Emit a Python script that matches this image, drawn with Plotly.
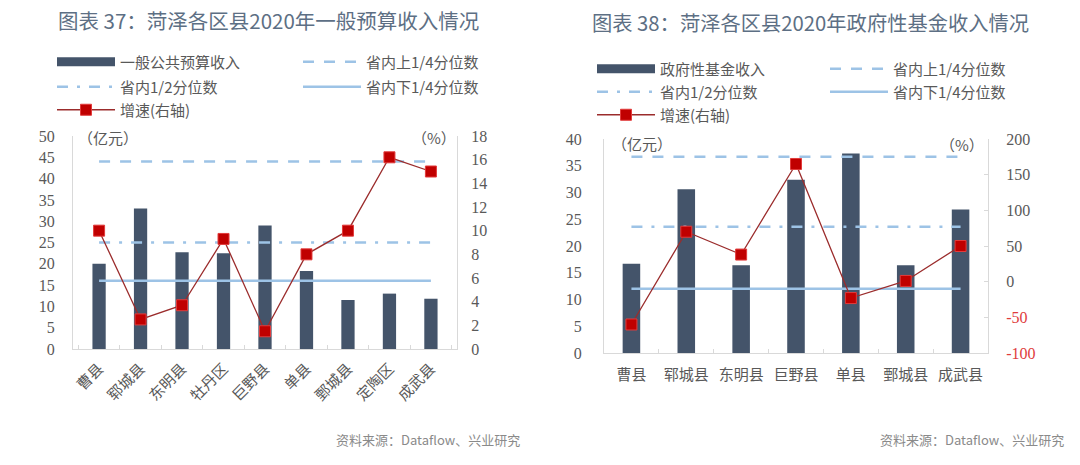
import plotly.graph_objects as go

# ---------------- data ----------------
cats_l = ["曹县", "郓城县", "东明县", "牡丹区", "巨野县", "单县", "鄄城县", "定陶区", "成武县"]
income_l = [20.0, 33.0, 22.7, 22.5, 29.0, 18.3, 11.5, 13.0, 11.8]
growth_l = [10.0, 2.5, 3.7, 9.3, 1.5, 8.0, 10.0, 16.2, 15.0]
q_upper_l = 44.0
q_median_l = 25.0
q_lower_l = 16.0

cats_r = ["曹县", "郓城县", "东明县", "巨野县", "单县", "鄄城县", "成武县"]
fund_r = [16.7, 30.6, 16.4, 32.4, 37.3, 16.4, 26.8]
growth_r = [-60.0, 70.0, 38.0, 165.0, -23.0, 1.0, 50.0]
q_upper_r = 36.7
q_median_r = 23.6
q_lower_r = 12.0

right_ticks_r = [-100, -50, 0, 50, 100, 150, 200]

# ---------------- style ----------------
BAR = "#44546a"
QLINE = "#9dc3e6"
GLINE = "#9b2c2c"
GMARK = "#c00000"
TXT = "#595959"
AX = "#d9d9d9"
CJK = "Noto Sans CJK SC"
SERIF = "Liberation Serif"
W, H = 1080, 465

def px(x):
    return x / W

def py(y):
    return 1 - y / H

fig = go.Figure()

def add_chart(cats, bars, growth, qu, qm, ql, bar_name, xa, ya, ya2, legs):
    fig.add_trace(go.Bar(x=cats, y=bars, name=bar_name, marker_color=BAR,
                         width=0.32, xaxis=xa, yaxis=ya, showlegend=False))
    # legend-only entry drawn as a thick block, like the reference's bar swatch
    fig.add_trace(go.Scatter(x=[None], y=[None], mode="lines", name=bar_name,
                             line=dict(color=BAR, width=9),
                             xaxis=xa, yaxis=ya, legend=legs[0]))
    ends = [cats[0], cats[-1]]
    fig.add_trace(go.Scatter(x=ends, y=[qu, qu], mode="lines", name="省内上1/4分位数",
                             line=dict(color=QLINE, width=2.5, dash="11px,10px"),
                             xaxis=xa, yaxis=ya, legend=legs[1]))
    fig.add_trace(go.Scatter(x=ends, y=[qm, qm], mode="lines", name="省内1/2分位数",
                             line=dict(color=QLINE, width=2.5, dash="11px,9px,3px,9px"),
                             xaxis=xa, yaxis=ya, legend=legs[2]))
    fig.add_trace(go.Scatter(x=ends, y=[ql, ql], mode="lines", name="省内下1/4分位数",
                             line=dict(color=QLINE, width=2.5),
                             xaxis=xa, yaxis=ya, legend=legs[3]))
    fig.add_trace(go.Scatter(x=cats, y=growth, mode="lines+markers", name="增速(右轴)",
                             line=dict(color=GLINE, width=1.3),
                             marker=dict(symbol="square", size=11, color=GMARK,
                                         line=dict(color="#e23b3b", width=1)),
                             xaxis=xa, yaxis=ya2, legend=legs[4]))

add_chart(cats_l, income_l, growth_l, q_upper_l, q_median_l, q_lower_l, "一般公共预算收入",
          "x", "y", "y2", ["legend", "legend2", "legend3", "legend4", "legend5"])
add_chart(cats_r, fund_r, growth_r, q_upper_r, q_median_r, q_lower_r, "政府性基金收入",
          "x2", "y3", "y4", ["legend6", "legend7", "legend8", "legend9", "legend10"])

tickfont_num = dict(family=SERIF, size=16, color=TXT)
tickfont_cat = dict(family=CJK, size=15, color=TXT)

layout = dict(
    width=W, height=H, template="none", showlegend=True,
    paper_bgcolor="white", plot_bgcolor="white",
    margin=dict(l=0, r=0, t=0, b=0),
    xaxis=dict(domain=[px(73), px(457)], anchor="y", showline=True, linecolor=AX, linewidth=1,
               ticks="inside", tickson="boundaries", ticklen=4, tickcolor=AX,
               tickangle=-45, tickfont=tickfont_cat, showgrid=False, automargin=False,
               ticklabelstandoff=4),
    yaxis=dict(domain=[py(349), py(136)], anchor="x", range=[0, 50], dtick=5,
               showline=True, linecolor=AX, linewidth=1, ticks="", showgrid=False,
               zeroline=False, tickfont=tickfont_num, automargin=False, ticklabelstandoff=14),
    yaxis2=dict(overlaying="y", anchor="x", side="right", range=[0, 18], dtick=2,
                showline=True, linecolor=AX, linewidth=1, ticks="", showgrid=False,
                zeroline=False, tickfont=tickfont_num, automargin=False, ticklabelstandoff=10),
    xaxis2=dict(domain=[px(604), px(988)], anchor="y3", showline=True, linecolor=AX, linewidth=1,
                ticks="inside", tickson="boundaries", ticklen=4, tickcolor=AX,
                tickangle=0, tickfont=tickfont_cat, showgrid=False, automargin=False,
                ticklabelstandoff=8),
    yaxis3=dict(domain=[py(353), py(139)], anchor="x2", range=[0, 40], dtick=5,
                showline=True, linecolor=AX, linewidth=1, ticks="", showgrid=False,
                zeroline=False, tickfont=tickfont_num, automargin=False, ticklabelstandoff=18),
    yaxis4=dict(overlaying="y3", anchor="x2", side="right", range=[-100, 200],
                tickmode="array", tickvals=right_ticks_r,
                ticktext=[f'<span style="color:#e03c3c">{v}</span>' if v < 0 else str(v)
                          for v in right_ticks_r],
                showline=True, linecolor=AX, linewidth=1, ticks="inside", ticklen=4,
                tickcolor=AX, showgrid=False, zeroline=False, tickfont=tickfont_num,
                automargin=False, ticklabelstandoff=14),
)

# legends: each item positioned individually
leg_font = dict(family=CJK, size=15, color=TXT)
leg_pos = {
    "legend": (52, 62), "legend2": (298, 62), "legend3": (52, 87), "legend4": (298, 87),
    "legend5": (52, 110),
    "legend6": (592, 69), "legend7": (825, 69), "legend8": (592, 92), "legend9": (825, 92),
    "legend10": (592, 115),
}
for k, (lx, ly) in leg_pos.items():
    layout[k] = dict(x=px(lx), y=py(ly), xanchor="left", yanchor="middle",
                     bgcolor="rgba(0,0,0,0)", font=leg_font, itemwidth=58,
                     orientation="h", borderwidth=0, visible=True)

fig.update_layout(**layout)

ann = [
    dict(text="图表 37：菏泽各区县2020年一般预算收入情况", x=px(56), y=py(20),
         xanchor="left", yanchor="middle", font=dict(family=CJK, size=20.5, color="#5d6f84")),
    dict(text="图表 38：菏泽各区县2020年政府性基金收入情况", x=px(590), y=py(22),
         xanchor="left", yanchor="middle", font=dict(family=CJK, size=20.3, color="#5d6f84")),
    dict(text="（亿元）", x=px(76), y=py(137), xanchor="left", yanchor="middle",
         font=dict(family=CJK, size=15, color=TXT)),
    dict(text="（%）", x=px(458), y=py(137), xanchor="right", yanchor="middle",
         font=dict(family=CJK, size=15, color=TXT)),
    dict(text="（亿元）", x=px(610), y=py(143), xanchor="left", yanchor="middle",
         font=dict(family=CJK, size=15, color=TXT)),
    dict(text="（%）", x=px(986), y=py(145), xanchor="right", yanchor="middle",
         font=dict(family=CJK, size=15, color=TXT)),
    dict(text="资料来源：Dataflow、兴业研究", x=px(522), y=py(439), xanchor="right",
         yanchor="middle", font=dict(family=CJK, size=13, color="#8a8a8a")),
    dict(text="资料来源：Dataflow、兴业研究", x=px(1066), y=py(439), xanchor="right",
         yanchor="middle", font=dict(family=CJK, size=13, color="#8a8a8a")),
]
for a in ann:
    a.update(xref="paper", yref="paper", showarrow=False)
fig.update_layout(annotations=ann)

fig.write_html("out.html", config={"displayModeBar": False},
               post_script="document.body.style.margin='0';")
